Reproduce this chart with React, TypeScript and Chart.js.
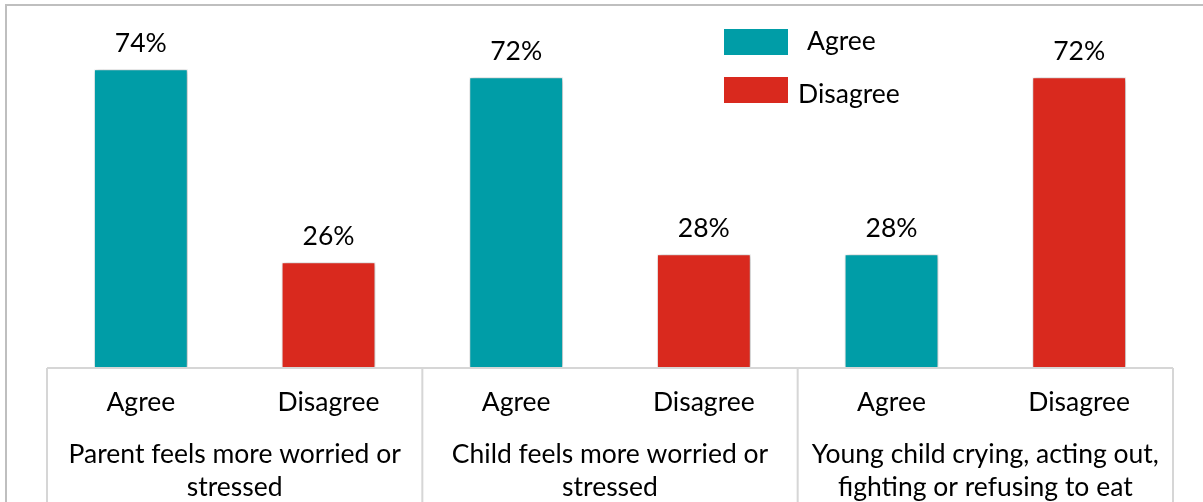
import React, { useEffect, useRef } from 'react';
import { Chart, registerables } from 'chart.js';

Chart.register(...registerables);

const categories = ['Agree', 'Disagree', 'Agree', 'Disagree', 'Agree', 'Disagree'];
const groupLabels = [
  ['Parent feels more worried or', 'stressed'],
  ['Child feels more worried or', 'stressed'],
  ['Young child crying, acting out,', 'fighting or refusing to eat'],
];
const seriesNames = ['Agree', 'Disagree'];
const agreeValues = [74, null, 72, null, 28, null];
const disagreeValues = [null, 26, null, 28, null, 72];
const seriesColors = ['#009DA7', '#D9291E'];

const FONT = 'Lato, "Open Sans", sans-serif';
const FS = 26.5;

const decorPlugin = {
  id: 'decor',
  beforeDatasetsDraw(chart: any) {
    const ctx = chart.ctx;
    ctx.save();
    ctx.shadowColor = 'rgba(0,0,0,0.4)';
    ctx.shadowBlur = 5;
    ctx.shadowOffsetX = 1;
    ctx.shadowOffsetY = 1;
  },
  afterDatasetsDraw(chart: any) {
    const ctx = chart.ctx;
    ctx.restore();
    ctx.save();
    ctx.font = `${FS}px ${FONT}`;
    ctx.fillStyle = '#000';
    ctx.textAlign = 'center';
    ctx.textBaseline = 'alphabetic';
    chart.data.datasets.forEach((ds: any, di: number) => {
      const meta = chart.getDatasetMeta(di);
      meta.data.forEach((el: any, i: number) => {
        const v = ds.data[i];
        if (v === null || v === undefined) return;
        ctx.fillText(`${v}%`, el.x, el.y - 17);
      });
    });
    ctx.restore();
  },
  afterDraw(chart: any) {
    const ctx = chart.ctx;
    const area = chart.chartArea;
    const xs = chart.scales.x;
    ctx.save();
    // outer frame
    ctx.strokeStyle = '#BFBFBF';
    ctx.lineWidth = 2;
    ctx.strokeRect(6, 5, chart.width + 20, chart.height + 20);
    // axis line and group separators
    ctx.strokeStyle = '#D6D6D6';
    ctx.lineWidth = 2;
    ctx.beginPath();
    ctx.moveTo(area.left, area.bottom + 1);
    ctx.lineTo(area.right, area.bottom + 1);
    const half = (xs.getPixelForValue(1) - xs.getPixelForValue(0)) / 2;
    for (let g = 0; g <= categories.length; g += 2) {
      const px = g < categories.length ? xs.getPixelForValue(g) - half : xs.getPixelForValue(categories.length - 1) + half;
      ctx.moveTo(px, area.bottom + 1);
      ctx.lineTo(px, chart.height + 5);
    }
    ctx.stroke();
    // legend
    const lx = 724;
    const items = [
      { y: 29, baseline: 50, tx: 807 },
      { y: 77, baseline: 103, tx: 798 },
    ];
    ctx.font = `${FS}px ${FONT}`;
    ctx.textAlign = 'left';
    ctx.textBaseline = 'alphabetic';
    items.forEach((it, i) => {
      ctx.fillStyle = chart.data.datasets[i].backgroundColor;
      ctx.fillRect(lx, it.y, 64, 26);
      ctx.fillStyle = '#000';
      ctx.fillText(chart.data.datasets[i].label, it.tx, it.baseline);
    });
    ctx.restore();
  },
};

export default function App() {
  const ref = useRef<HTMLCanvasElement>(null);
  useEffect(() => {
    document.body.style.margin = '0';
    if (!ref.current) return;
    Chart.defaults.font.family = FONT;
    const chart = new Chart(ref.current, {
      type: 'bar',
      data: {
        labels: categories,
        datasets: [
          {
            label: seriesNames[0],
            data: agreeValues,
            backgroundColor: seriesColors[0],
            borderColor: '#FFFFFF',
            borderWidth: 1,
            skipNull: true,
            barPercentage: 0.5,
            categoryPercentage: 1.0,
          },
          {
            label: seriesNames[1],
            data: disagreeValues,
            backgroundColor: seriesColors[1],
            borderColor: '#FFFFFF',
            borderWidth: 1,
            skipNull: true,
            barPercentage: 0.5,
            categoryPercentage: 1.0,
          },
        ] as any,
      },
      options: {
        animation: false,
        responsive: false,
        events: [],
        layout: { padding: { left: 47, right: 30, top: 45, bottom: 0 } },
        plugins: {
          legend: { display: false },
          tooltip: { enabled: false },
        },
        scales: {
          y: {
            display: false,
            min: 0,
            max: 80,
          },
          x: {
            position: 'bottom',
            offset: true,
            grid: { display: false, drawTicks: false },
            border: { display: false },
            ticks: {
              color: '#000',
              font: { size: FS, family: FONT },
              padding: 20,
              maxRotation: 0,
              autoSkip: false,
            },
            afterFit: (s: any) => {
              s.height = 62;
            },
          },
          x2: {
            type: 'category',
            position: 'bottom',
            labels: groupLabels as any,
            offset: true,
            grid: { display: false, drawTicks: false },
            border: { display: false },
            ticks: {
              color: '#000',
              font: { size: FS, family: FONT, lineHeight: 1.28 },
              padding: 8,
              maxRotation: 0,
              autoSkip: false,
            },
            afterFit: (s: any) => {
              s.height = 73;
            },
          },
        } as any,
      },
      plugins: [decorPlugin],
    });
    if ((document as any).fonts && (document as any).fonts.load) {
      (document as any).fonts.load(`25px Lato`).then(() => chart.update()).catch(() => {});
    }
    return () => {
      chart.destroy();
    };
  }, []);
  return (
    <div style={{ width: 1203, height: 502 }}>
      <canvas ref={ref} width={1203} height={502} style={{ display: 'block' }} />
    </div>
  );
}
